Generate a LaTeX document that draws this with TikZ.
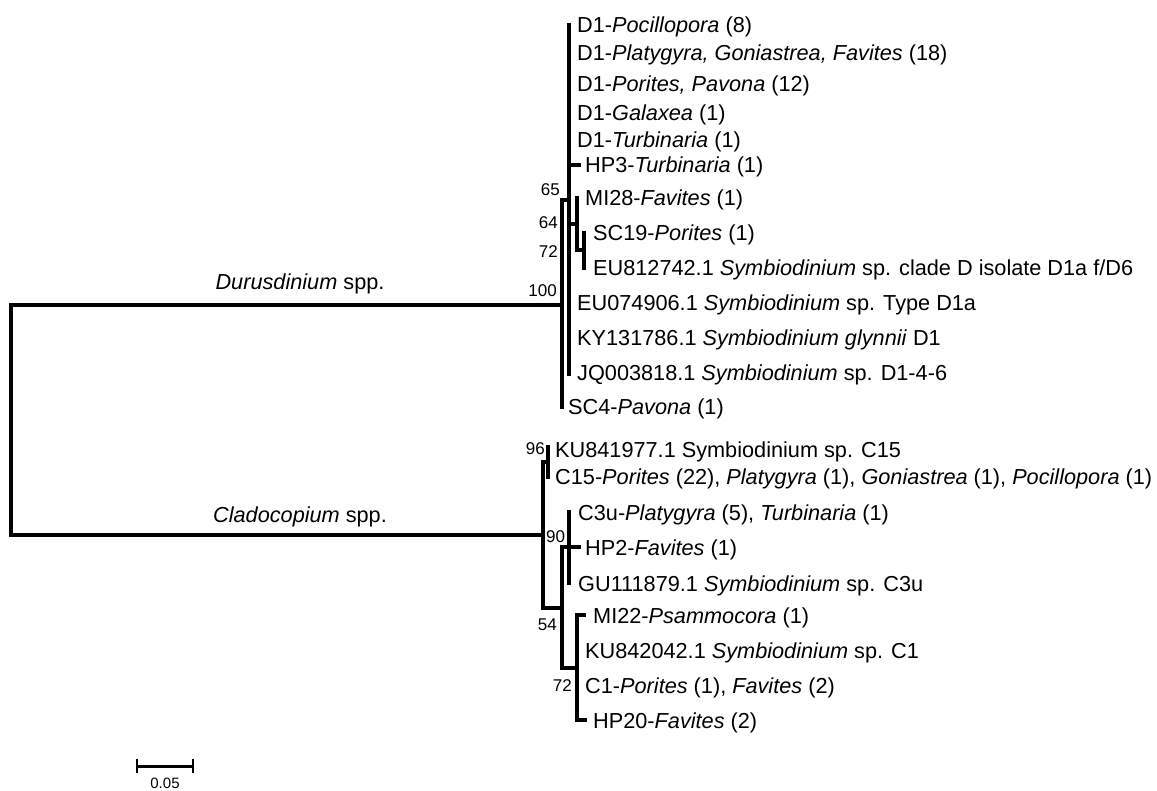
\documentclass[tikz,border=0pt]{standalone}
\usepackage{fontspec}
\setmainfont{Liberation Sans}
\begin{document}
\begin{tikzpicture}[x=1pt,y=-1pt,
  br/.style={line width=3.6pt, line cap=rect, line join=miter},
  lab/.style={anchor=base west, inner sep=0pt, font=\fontsize{21.7}{26}\selectfont},
  clade/.style={anchor=base, inner sep=0pt, font=\fontsize{21.7}{26}\selectfont\itshape},
  bsr/.style={anchor=base east, inner sep=0pt, font=\fontsize{17}{20}\selectfont},
  bsl/.style={anchor=base west, inner sep=0pt, font=\fontsize{17}{20}\selectfont},
]
\useasboundingbox (0,0) rectangle (1157,791);
% ---------- named points of the tree ----------
\coordinate (rootD) at (11,305);
\coordinate (rootC) at (11,535);
% Durusdinium
\coordinate (nD)   at (562,305);
\coordinate (nDt)  at (562,200);
\coordinate (nDb)  at (562,407);
\coordinate (n65)  at (569,200);
\coordinate (n65t) at (569,25);
\coordinate (n65b) at (569,374);
\coordinate (hp3a) at (569,165);
\coordinate (hp3)  at (579,165);
\coordinate (n64a) at (569,224);
\coordinate (n64)  at (577,224);
\coordinate (n64t) at (577,198);
\coordinate (n64b) at (577,250);
\coordinate (n72d) at (584,250);
\coordinate (n72dt) at (584,233);
\coordinate (n72db) at (584,268);
% Cladocopium
\coordinate (nC)   at (543,535);
\coordinate (nCt)  at (543,462);
\coordinate (nCb)  at (543,608);
\coordinate (n96)  at (548,462);
\coordinate (n96t) at (548,447);
\coordinate (n96b) at (548,477);
\coordinate (n54)  at (562,608);
\coordinate (n54t) at (562,547);
\coordinate (n54b) at (562,668);
\coordinate (n3u)  at (569,547);
\coordinate (n3ut) at (569,512);
\coordinate (n3ub) at (569,583);
\coordinate (hp2)  at (579,547);
\coordinate (n72c) at (577,668);
\coordinate (n72ct) at (577,615);
\coordinate (n72cb) at (577,720);
\coordinate (mi22) at (584,615);
\coordinate (hp20) at (585,720);
% ---------- branches ----------
\draw[br] (nD) -- (rootD) -- (rootC) -- (nC);
\draw[br] (nDt) -- (nDb);
\draw[br] (nDt) -- (n65);
\draw[br] (n65t) -- (n65b);
\draw[br] (hp3a) -- (hp3);
\draw[br] (n64a) -- (n64);
\draw[br] (n64t) -- (n64b);
\draw[br] (n64b) -- (n72d);
\draw[br] (n72dt) -- (n72db);
\draw[br] (nCt) -- (nCb);
\draw[br] (nCt) -- (n96);
\draw[br] (n96t) -- (n96b);
\draw[br] (nCb) -- (n54);
\draw[br] (n54t) -- (n54b);
\draw[br] (n54t) -- (n3u);
\draw[br] (n3ut) -- (n3ub);
\draw[br] (n3u) -- (hp2);
\draw[br] (n54b) -- (n72c);
\draw[br] (n72ct) -- (n72cb);
\draw[br] (n72ct) -- (mi22);
\draw[br] (n72cb) -- (hp20);
% ---------- clade names ----------
\node[clade] (cD) at (300,290) {Durusdinium\upshape\ spp.};
\node[clade] (cC) at (300,522) {Cladocopium\upshape\ spp.};
% ---------- bootstrap values ----------
\node[bsr] (b100) at (557,297) {100};
\node[bsr] (b65)  at (560,196) {65};
\node[bsr] (b64)  at (558,229) {64};
\node[bsr] (b72d) at (558,258) {72};
\node[bsr] (b96)  at (545,455) {96};
\node[bsl] (b90)  at (546,542) {90};
\node[bsr] (b54)  at (557,630) {54};
\node[bsr] (b72c) at (572,691) {72};
% ---------- leaf labels ----------
\node[lab] (l1)  at (577,33)  {D1-\textit{Pocillopora} (8)};
\node[lab] (l2)  at (577,61)  {D1-\textit{Platygyra, Goniastrea, Favites} (18)};
\node[lab] (l3)  at (577,92)  {D1-\textit{Porites, Pavona} (12)};
\node[lab] (l4)  at (577,121) {D1-\textit{Galaxea} (1)};
\node[lab] (l5)  at (577,148) {D1-\textit{Turbinaria} (1)};
\node[lab] (l6)  at (585,173) {HP3-\textit{Turbinaria} (1)};
\node[lab] (l7)  at (585,206) {MI28-\textit{Favites} (1)};
\node[lab] (l8)  at (593,241) {SC19-\textit{Porites} (1)};
\node[lab] (l9)  at (593,276) {EU812742.1 \textit{Symbiodinium} sp. clade D isolate D1a f/D6};
\node[lab] (l10) at (577,311) {EU074906.1 \textit{Symbiodinium} sp. Type D1a};
\node[lab] (l11) at (577,346) {KY131786.1 \textit{Symbiodinium glynnii} D1};
\node[lab] (l12) at (577,381) {JQ003818.1 \textit{Symbiodinium} sp. D1-4-6};
\node[lab] (l13) at (568,415) {SC4-\textit{Pavona} (1)};
\node[lab] (l14) at (555,457) {KU841977.1 Symbiodinium sp. C15};
\node[lab] (l15) at (555,485) {C15-\textit{Porites} (22), \textit{Platygyra} (1), \textit{Goniastrea} (1), \textit{Pocillopora} (1)};
\node[lab] (l16) at (578,520) {C3u-\textit{Platygyra} (5), \textit{Turbinaria} (1)};
\node[lab] (l17) at (585,555) {HP2-\textit{Favites} (1)};
\node[lab] (l18) at (578,591) {GU111879.1 \textit{Symbiodinium} sp. C3u};
\node[lab] (l19) at (593,623) {MI22-\textit{Psammocora} (1)};
\node[lab] (l20) at (585,658) {KU842042.1 \textit{Symbiodinium} sp. C1};
\node[lab] (l21) at (585,693) {C1-\textit{Porites} (1), \textit{Favites} (2)};
\node[lab] (l22) at (593,728) {HP20-\textit{Favites} (2)};
% ---------- scale bar ----------
\coordinate (sbL) at (137,766);
\coordinate (sbR) at (193,766);
\coordinate (sbLt) at (137,759);
\coordinate (sbLb) at (137,773);
\coordinate (sbRt) at (193,759);
\coordinate (sbRb) at (193,773);
\draw[line width=3pt] (sbL) -- (sbR);
\draw[line width=1.5pt] (sbLt) -- (sbLb);
\draw[line width=1.5pt] (sbRt) -- (sbRb);
\node[anchor=base, inner sep=0pt, font=\fontsize{15}{18}\selectfont] (sbl) at (165,788) {0.05};
\end{tikzpicture}
\end{document}
